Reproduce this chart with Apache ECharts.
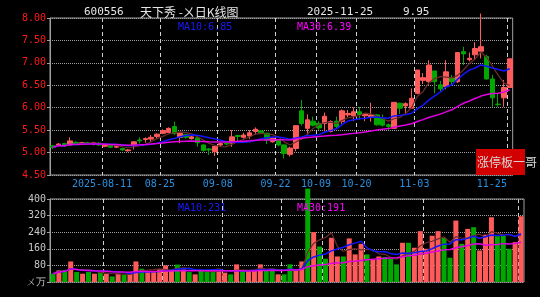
<!DOCTYPE html>
<html>
<head>
<meta charset="utf-8">
<style>
html,body{margin:0;padding:0;background:#000;}
#chart{width:540px;height:297px;}
</style>
<script src="https://cdn.jsdelivr.net/npm/echarts@6.0.0/dist/echarts.min.js"></script>
</head>
<body>
<div id="chart"></div>
<script>
const dates = [
'2025-07-29','2025-07-30','2025-07-31','2025-08-01','2025-08-04','2025-08-05','2025-08-06','2025-08-07','2025-08-08',
'2025-08-11','2025-08-12','2025-08-13','2025-08-14','2025-08-15',
'2025-08-18','2025-08-19','2025-08-20','2025-08-21','2025-08-22',
'2025-08-25','2025-08-26','2025-08-27','2025-08-28','2025-08-29',
'2025-09-01','2025-09-02','2025-09-03','2025-09-04','2025-09-05',
'2025-09-08','2025-09-09','2025-09-10','2025-09-11','2025-09-12',
'2025-09-15','2025-09-16','2025-09-17','2025-09-18','2025-09-19',
'2025-09-22','2025-09-23','2025-09-24','2025-09-25','2025-09-26',
'2025-09-29','2025-09-30',
'2025-10-09','2025-10-10',
'2025-10-13','2025-10-14','2025-10-15','2025-10-16','2025-10-17',
'2025-10-20','2025-10-21','2025-10-22','2025-10-23','2025-10-24',
'2025-10-27','2025-10-28','2025-10-29','2025-10-30','2025-10-31',
'2025-11-03','2025-11-04','2025-11-05','2025-11-06','2025-11-07',
'2025-11-10','2025-11-11','2025-11-12','2025-11-13','2025-11-14',
'2025-11-17','2025-11-18','2025-11-19','2025-11-20','2025-11-21',
'2025-11-24','2025-11-25'];

const opens = [5.15,5.16,5.20,5.17,5.23,5.19,5.22,5.19,5.21,5.14, 5.16,5.12,5.09,5.04,5.15,5.28,5.29,5.30,5.36,5.43,
 5.45,5.58,5.34,5.40,5.31,5.33,5.17,5.08,5.02,5.17, 5.21,5.21,5.38,5.34,5.37,5.47,5.48,5.43,5.24,5.28,
 5.17,4.96,5.09,5.93,5.54,5.70,5.65,5.65,5.47,5.70, 5.69,5.84,5.82,5.91,5.82,5.80,5.84,5.76,5.62,5.54,
 6.10,6.04,5.99,6.32,6.61,6.58,6.82,6.51,6.47,6.66, 6.58,7.25,7.07,7.18,7.26,7.14,6.64,6.08,6.22,6.45];
const closes = [5.12,5.19,5.15,5.26,5.19,5.22,5.19,5.22,5.17,5.16, 5.12,5.14,5.06,5.06,5.24,5.26,5.31,5.34,5.41,5.49,
 5.54,5.43,5.43,5.34,5.35,5.22,5.05,5.06,5.14,5.20, 5.19,5.35,5.36,5.39,5.44,5.52,5.44,5.28,5.32,5.17,
 4.98,5.10,5.60,5.65,5.73,5.61,5.55,5.81,5.69,5.58, 5.93,5.87,5.91,5.84,5.86,5.84,5.62,5.61,5.58,6.12,
 5.99,6.09,6.21,6.84,6.67,6.95,6.58,6.42,6.80,6.58, 7.23,7.20,7.10,7.32,7.36,6.64,6.22,6.07,6.45,7.09];
const lows = [5.08,5.14,5.13,5.15,5.17,5.17,5.17,5.16,5.15,5.12, 5.10,5.10,5.04,5.02,5.07,5.20,5.22,5.24,5.30,5.41,
 5.43,5.39,5.21,5.31,5.29,5.13,5.02,4.95,4.92,5.14, 5.16,5.13,5.24,5.31,5.30,5.40,5.42,5.19,5.22,5.14,
 4.87,4.91,5.03,5.60,5.39,5.58,5.50,5.47,5.45,5.54, 5.64,5.79,5.70,5.73,5.70,5.69,5.60,5.58,5.50,5.53,
 5.86,5.85,5.98,6.30,6.53,6.51,6.32,6.37,6.41,6.49, 6.55,6.95,7.03,7.06,7.10,6.63,6.02,6.02,6.02,6.45];
const highs = [5.17,5.21,5.22,5.34,5.25,5.24,5.24,5.24,5.23,5.18, 5.17,5.16,5.11,5.08,5.25,5.34,5.34,5.39,5.43,5.52,
 5.56,5.69,5.44,5.42,5.37,5.35,5.18,5.10,5.15,5.22, 5.22,5.50,5.39,5.44,5.50,5.56,5.50,5.44,5.34,5.29,
 5.18,5.13,5.61,6.17,5.85,5.80,5.70,5.89,5.72,5.80, 5.96,5.95,6.01,6.02,5.87,6.11,5.86,5.85,5.65,6.12,
 6.11,6.12,6.43,6.84,6.77,7.06,6.82,6.60,7.06,6.73, 7.23,7.36,7.23,7.46,8.10,7.18,6.73,6.32,6.62,7.09];
const volumes = [40,56,58,99,48,40,48,40,48,40, 27,40,35,40,99,64,48,48,61,80,
 56,84,61,48,37,56,51,56,64,45, 37,85,56,56,56,85,56,64,37,37,
 85,56,99,450,240,171,112,213,123,123, 210,133,184,133,107,123,120,112,85,189,
 189,165,245,160,223,245,212,117,296,184, 256,264,152,228,312,221,224,160,192,317];

const tickDates = ['2025-08-11','2025-08-25','2025-09-08','2025-09-22','2025-10-09','2025-10-20','2025-11-03','2025-11-25'];
const tickLabels = ['2025-08-11','08-25','09-08','09-22','10-09','10-20','11-03','11-25     '];
const priceTicks = [4.5, 8.0, 0.5];
const volTicks = [0, 400, 80];

const titleCode = '600556';
const titleName = '天下秀 -ㄨ日K线图';
const titleDate = '2025-11-25';
const titlePrice = '9.95';
const priceMaLabels = ['MA10:6.85', 'MA30:6.39'];
const volMaLabels = ['MA10:231', 'MA30:191'];
const volUnit = 'ㄨ万';
const badgeText = '涨停板一哥';

function ma(arr, n) {
  return arr.map((_, i) => {
    const s = Math.max(0, i - n + 1);
    let sum = 0;
    for (let k = s; k <= i; k++) sum += arr[k];
    return +(sum / (i - s + 1)).toFixed(3);
  });
}

const UP = '#ff5b5b', DOWN = '#00a800';
const MONO = 'DejaVu Sans Mono';
const kData = dates.map((d, i) => [opens[i], closes[i], lows[i], highs[i]]);
const volData = volumes.map((v, i) => ({ value: v, itemStyle: { color: closes[i] >= opens[i] ? UP : DOWN } }));
const bounds = dates.concat(['']);
const isTick = (idx, v) => tickDates.indexOf(v) >= 0;

const chart = echarts.init(document.getElementById('chart'), null, { renderer: 'canvas' });

const tStyle = (color, size, family) => ({ color, fontSize: size, fontFamily: family, fontWeight: 'normal' });

const option = {
  backgroundColor: '#000',
  animation: false,
  title: [
    { text: titleCode, left: 79, top: 2, textStyle: tStyle('#e6e6e6', 11, MONO) },
    { text: titleName, left: 135, top: 1, textStyle: tStyle('#e6e6e6', 12, 'Noto Sans CJK SC') },
    { text: titleDate, left: 302, top: 2, textStyle: tStyle('#e6e6e6', 11, MONO) },
    { text: titlePrice, left: 398, top: 2, textStyle: tStyle('#e6e6e6', 11, MONO) },
    { text: priceMaLabels[0], left: 173, top: 17, textStyle: tStyle('#1a1aff', 10, MONO) },
    { text: priceMaLabels[1], left: 292, top: 17, textStyle: tStyle('#ff00ff', 10, MONO) },
    { text: volMaLabels[0], left: 173, top: 198, textStyle: tStyle('#1a1aff', 10, MONO) },
    { text: volMaLabels[1], left: 292, top: 198, textStyle: tStyle('#ff00ff', 10, MONO) }
  ],
  grid: [
    { left: 50, top: 18, width: 474, height: 157, show: true, borderColor: '#a0a0a0', borderWidth: 1, backgroundColor: 'transparent' },
    { left: 50, top: 199, width: 474, height: 83, show: true, borderColor: '#a0a0a0', borderWidth: 1, backgroundColor: 'transparent' }
  ],
  xAxis: [
    { type: 'category', gridIndex: 0, position: 'bottom', data: dates, boundaryGap: true, show: false },
    { type: 'category', gridIndex: 0, position: 'bottom', data: bounds, boundaryGap: false,
      axisLine: { show: false }, axisTick: { show: false },
      axisLabel: { interval: isTick, formatter: v => { const k = tickDates.indexOf(v); return k >= 0 ? tickLabels[k] : ''; },
        color: '#2a90e0', fontSize: 10, fontFamily: MONO, margin: 4 },
      splitLine: { show: true, interval: isTick, lineStyle: { color: '#cfcfcf', type: [4, 3], width: 1 } } },
    { type: 'category', gridIndex: 1, position: 'bottom', data: dates, boundaryGap: true, show: false },
    { type: 'category', gridIndex: 1, position: 'bottom', data: bounds, boundaryGap: false,
      axisLine: { show: false }, axisTick: { show: false }, axisLabel: { show: false },
      splitLine: { show: true, interval: isTick, lineStyle: { color: '#cfcfcf', type: [4, 3], width: 1 } } }
  ],
  yAxis: [
    { type: 'value', gridIndex: 0, min: priceTicks[0], max: priceTicks[1], interval: priceTicks[2],
      axisLine: { show: true, lineStyle: { color: '#a0a0a0' } },
      axisTick: { show: true, length: 3, lineStyle: { color: '#a0a0a0' } },
      axisLabel: { color: '#ff1a1a', fontSize: 10, fontFamily: MONO, margin: 4, formatter: v => v.toFixed(2) },
      splitLine: { show: true, lineStyle: { color: '#a0a0a0', type: 'dotted', width: 1 } } },
    { type: 'value', gridIndex: 1, min: volTicks[0], max: volTicks[1], interval: volTicks[2],
      axisLine: { show: true, lineStyle: { color: '#a0a0a0' } },
      axisTick: { show: true, length: 3, lineStyle: { color: '#a0a0a0' } },
      axisLabel: { color: '#c8c8c8', fontSize: 10, fontFamily: MONO, margin: 4, formatter: v => v === 0 ? volUnit : String(v) },
      splitLine: { show: true, lineStyle: { color: '#a0a0a0', type: 'dotted', width: 1 } } }
  ],
  series: [
    { type: 'candlestick', xAxisIndex: 0, yAxisIndex: 0, data: kData, barWidth: 5,
      itemStyle: { color: UP, color0: DOWN, borderColor: UP, borderColor0: DOWN, borderWidth: 1 } },
    { type: 'line', xAxisIndex: 0, yAxisIndex: 0, data: ma(closes, 5), showSymbol: false, symbol: 'none',
      lineStyle: { color: '#6e2c2c', width: 1.2 } },
    { type: 'line', xAxisIndex: 0, yAxisIndex: 0, data: ma(closes, 10), showSymbol: false, symbol: 'none',
      lineStyle: { color: '#1414ff', width: 1.5 } },
    { type: 'line', xAxisIndex: 0, yAxisIndex: 0, data: ma(closes, 30), showSymbol: false, symbol: 'none',
      lineStyle: { color: '#e000e0', width: 1.5 } },
    { type: 'bar', xAxisIndex: 2, yAxisIndex: 1, data: volData, barWidth: 5, clip: false },
    { type: 'line', xAxisIndex: 2, yAxisIndex: 1, data: ma(volumes, 5), showSymbol: false, symbol: 'none',
      lineStyle: { color: '#6e2c2c', width: 1.2 } },
    { type: 'line', xAxisIndex: 2, yAxisIndex: 1, data: ma(volumes, 10), showSymbol: false, symbol: 'none',
      lineStyle: { color: '#1414ff', width: 1.5 } },
    { type: 'line', xAxisIndex: 2, yAxisIndex: 1, data: ma(volumes, 30), showSymbol: false, symbol: 'none',
      lineStyle: { color: '#e000e0', width: 1.5 } }
  ],
  graphic: [
    { type: 'rect', z: 100, shape: { x: 476, y: 149, width: 49, height: 26 }, style: { fill: '#d20000' } },
    { type: 'text', z: 101, x: 477, y: 162, style: { text: badgeText, fill: '#d8d8d8', font: '12px "Noto Sans CJK SC"', textVerticalAlign: 'middle' } }
  ]
};
chart.setOption(option);
</script>
</body>
</html>
